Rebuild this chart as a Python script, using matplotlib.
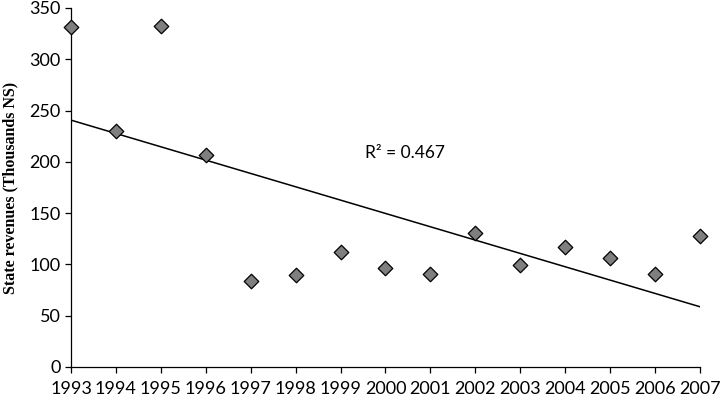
import numpy as np
import matplotlib.pyplot as plt

years = [1993, 1994, 1995, 1996, 1997, 1998, 1999, 2000,
         2001, 2002, 2003, 2004, 2005, 2006, 2007]
revenues = [331, 230, 332, 207, 84, 90, 112, 96,
            91, 131, 99, 117, 106, 91, 128]
r2_label = "R² = 0.467"

x = np.array(years, dtype=float)
y = np.array(revenues, dtype=float)
slope, intercept = np.polyfit(x, y, 1)

fig = plt.figure(figsize=(7.2, 3.98), dpi=100)
ax = fig.add_axes([0.0986, 0.078, 0.8736, 0.902])

ax.plot(x, slope * x + intercept, color='black', lw=1.1, zorder=2)
ax.scatter(x, y, marker='D', s=55, facecolor='#7f7f7f', edgecolor='black',
           linewidths=0.9, zorder=3, clip_on=False)

ax.set_xlim(1993, 2007)
ax.set_ylim(0, 350)
ax.set_xticks(years)
ax.set_yticks(range(0, 351, 50))

for side in ('top', 'right'):
    ax.spines[side].set_visible(False)
for side in ('left', 'bottom'):
    ax.spines[side].set_color('black')
    ax.spines[side].set_linewidth(0.9)

ax.tick_params(direction='out', length=4, width=0.9, labelsize=13)
ax.tick_params(axis='x', pad=6)
for lbl in ax.get_xticklabels() + ax.get_yticklabels():
    lbl.set_family('Lato')

ax.set_ylabel('State revenues (Thousands NS)', family='Liberation Serif',
              fontweight='bold', fontsize=11.5, labelpad=8)
ax.text(1999.55, 209, r2_label, family='Lato', fontsize=12.5, va='center')

fig.savefig('out.png', dpi=100)
